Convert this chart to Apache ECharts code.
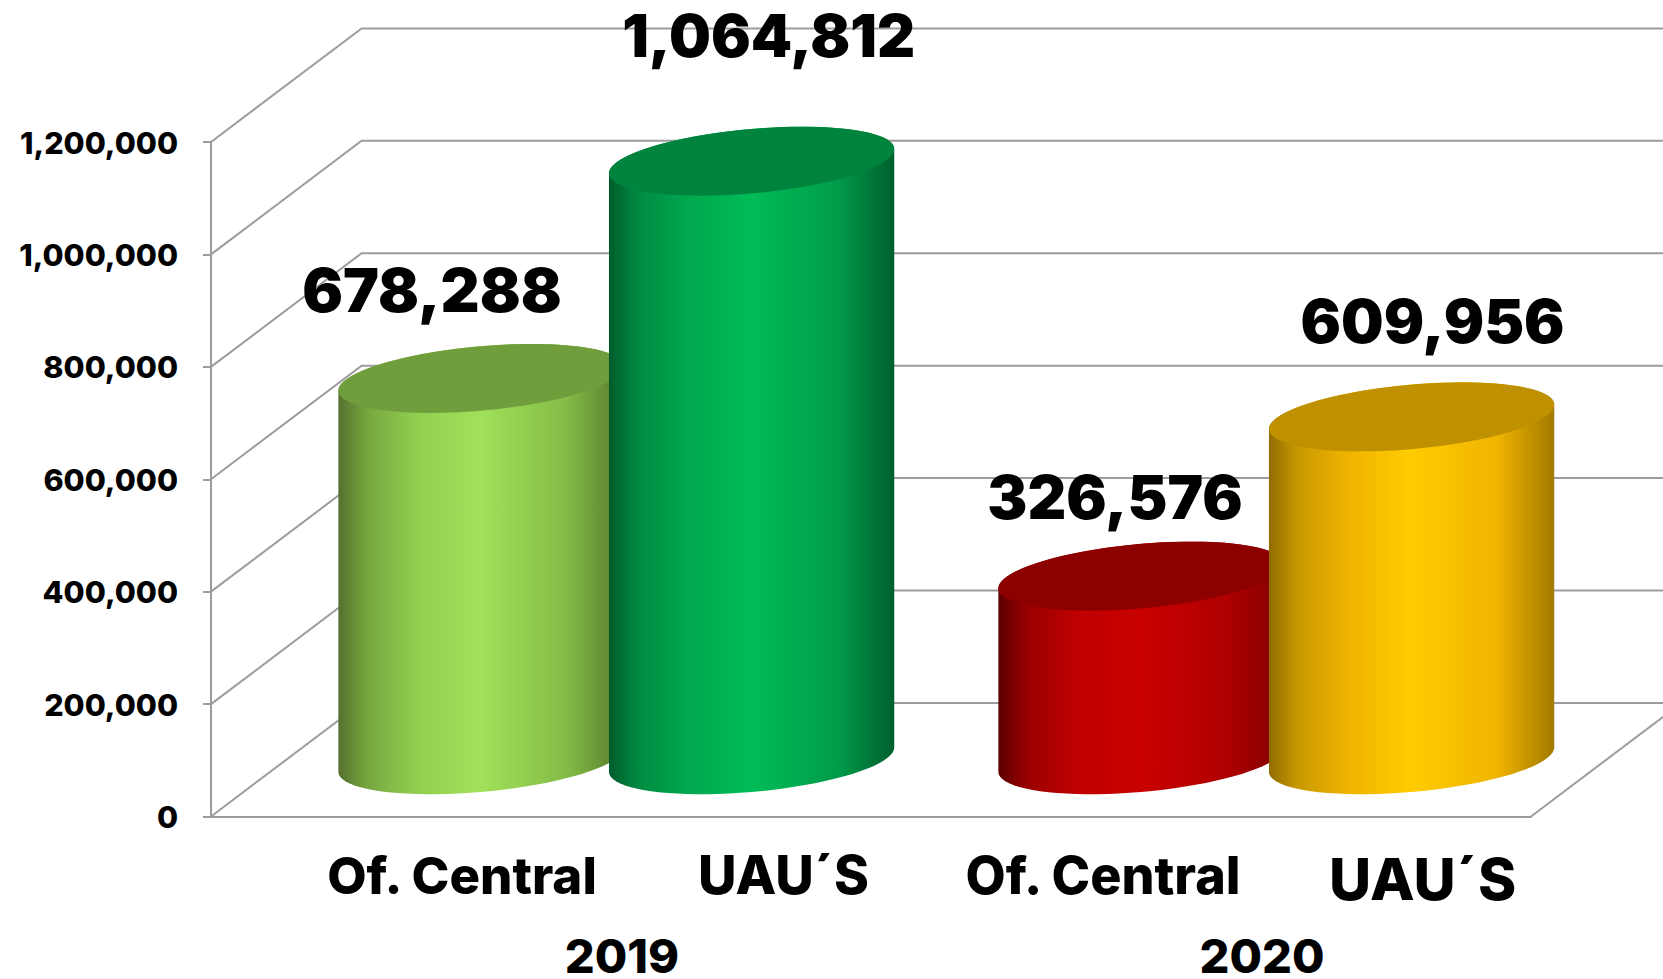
<!DOCTYPE html>
<html>
<head>
<meta charset="utf-8">
<style>
  html, body { margin: 0; padding: 0; background: #fff; }
  #chart { width: 1663px; height: 979px; }
</style>
<script src="https://cdn.jsdelivr.net/npm/echarts@6/dist/echarts.min.js"></script>
</head>
<body>
<div id="chart"></div>
<script>
const years = ['2019', '2020']
const subLabels = ['Of. Central', 'UAU´S']
const ofCentral = [678288, 326576]
const uaus = [1064812, 609956]
const yTicks = [0, 200000, 400000, 600000, 800000, 1000000, 1200000]

const fontFamily = 'Inter, "Noto Sans", sans-serif'
const gridColor = '#9c9c9c'

// depth of the fake 3D box, one tick step tall
const depthX = 150.6
const depthY = 113.6
// ellipse of the cylinder: oblique circle
const ellA = 133.4
const ellB = 50.5
const ellC = 34.5
const barShift = 0.205

// body gradient + lid colour per bar [series][category]
const bodyStops = [
  [
    ['#566f30', '#76a63f', '#92d050', '#a0e05a', '#84bc46', '#557a2a'],
    ['#5c0000', '#9a0000', '#c00000', '#c90000', '#b00000', '#800000']
  ],
  [
    ['#005c2c', '#008a41', '#00a84f', '#00bc58', '#009c49', '#005f2d'],
    ['#8f6c00', '#c89800', '#f0b400', '#ffcc00', '#f0b400', '#a07a00']
  ]
]
const lidColors = [['#719e3d', '#8c0000'], ['#00843d', '#bf9000']]
const stopAt = [0, 0.1, 0.28, 0.5, 0.8, 1]

// hand placed texts in the original, offset from the bar centre
const valueNudge = [[[-49, -88], [-26, -79]], [[17, -126], [21, -96]]]
const valueFont = [[60.5, 60], [59, 60]]
const subNudge = [[-19, -38], [32, 11]]
const subY = [[875, 875], [875, 879]]
const subFont = [[51, 52], [53, 58]]

function ellipsePoint(cx, cy, t) {
  return [cx + ellA * Math.cos(t) + ellB * Math.sin(t), cy - ellC * Math.sin(t)]
}

function renderCylinder(s) {
  return function (params, api) {
    const i = api.value(0)
    const band = api.size([1, 0])[0]
    const top = api.coord([i, api.value(1)])
    const base = api.coord([i, 0])
    const cx = top[0] + (s === 0 ? -1 : 1) * band * barShift + depthX / 2
    const topY = top[1] - depthY / 2
    const baseY = base[1] - depthY / 2

    // silhouette: start at right extreme of lid, over the back to the left extreme, then lower half of base
    const tLeft = Math.atan2(-ellB, -ellA)
    const tRight = tLeft + Math.PI
    const body = []
    for (let k = 0; k <= 40; k++) {
      body.push(ellipsePoint(cx, topY, tRight + (Math.PI * k) / 40))
    }
    for (let k = 0; k <= 40; k++) {
      body.push(ellipsePoint(cx, baseY, tLeft + (Math.PI * k) / 40))
    }
    const lid = []
    for (let k = 0; k < 80; k++) {
      lid.push(ellipsePoint(cx, topY, (2 * Math.PI * k) / 80))
    }

    const stops = bodyStops[s][i].map((c, n) => ({ offset: stopAt[n], color: c }))
    const vn = valueNudge[s][i]
    return {
      type: 'group',
      children: [
        {
          type: 'polygon',
          shape: { points: body },
          style: { fill: new echarts.graphic.LinearGradient(0, 0, 1, 0, stops) }
        },
        {
          type: 'polygon',
          shape: { points: lid },
          style: { fill: lidColors[s][i] }
        },
        {
          type: 'text',
          z2: 10,
          style: {
            text: (api.value(1)).toLocaleString('en-US'),
            x: cx + vn[0],
            y: topY + vn[1],
            align: 'center',
            verticalAlign: 'middle',
            fill: '#000',
            font: '900 ' + valueFont[s][i] + 'px ' + fontFamily
          }
        },
        {
          type: 'text',
          z2: 10,
          style: {
            text: subLabels[s],
            x: cx + subNudge[s][i],
            y: subY[s][i],
            align: 'center',
            verticalAlign: 'middle',
            fill: '#000',
            font: '800 ' + subFont[s][i] + 'px ' + fontFamily
          }
        }
      ]
    }
  }
}

function renderWall(params, api) {
  const p = api.coord([0, api.value(0)])
  const left = p[0] - api.size([1, 0])[0] / 2
  const lines = [{
    type: 'polyline',
    shape: { points: [[left, p[1]], [left + depthX, p[1] - depthY], [api.getWidth(), p[1] - depthY]] },
    style: { stroke: gridColor, lineWidth: 2, fill: null }
  }]
  // floor edge on the right side
  if (params.dataIndex === 0) {
    const right = api.coord([1, 0])[0] + api.size([1, 0])[0] / 2
    lines.push({
      type: 'polyline',
      shape: { points: [[right, p[1]], [right + depthX, p[1] - depthY]] },
      style: { stroke: gridColor, lineWidth: 2, fill: null }
    })
  }
  return { type: 'group', children: lines }
}

const chart = echarts.init(document.getElementById('chart'), null, { renderer: 'svg' })
chart.setOption({
  animation: false,
  backgroundColor: '#fff',
  grid: { left: 211, right: 132, top: 142, bottom: 160 },
  xAxis: {
    type: 'category',
    data: years,
    axisLine: { lineStyle: { color: gridColor, width: 2 } },
    axisTick: { show: false },
    axisLabel: {
      margin: 121,
      color: '#000',
      fontFamily: fontFamily,
      fontWeight: 800,
      fontSize: 47,
      lineHeight: 36,
      formatter: v => '{y' + v + '|' + v + '}',
      rich: {
        y2019: { fontFamily: fontFamily, fontWeight: 800, fontSize: 47, lineHeight: 36, padding: [0, 0, 0, 162] },
        y2020: { fontFamily: fontFamily, fontWeight: 800, fontSize: 47, lineHeight: 36, padding: [0, 0, 0, 122] }
      }
    }
  },
  yAxis: {
    type: 'value',
    min: 0,
    max: 1200000,
    interval: 200000,
    splitLine: { show: false },
    axisLine: { show: true, lineStyle: { color: gridColor, width: 2 } },
    axisTick: { show: true, length: 8, lineStyle: { color: gridColor, width: 2 } },
    axisLabel: {
      margin: 33,
      color: '#000',
      fontFamily: fontFamily,
      fontWeight: 800,
      fontSize: 30.5,
      padding: [12, 0, 0, 0],
      formatter: v => v.toLocaleString('en-US')
    }
  },
  series: [
    {
      type: 'custom',
      z: 1,
      silent: true,
      renderItem: renderWall,
      encode: { y: 0 },
      data: yTicks.map(v => [v])
    },
    {
      name: subLabels[0],
      type: 'custom',
      z: 2,
      renderItem: renderCylinder(0),
      encode: { x: 0, y: 1 },
      data: ofCentral.map((v, i) => [i, v])
    },
    {
      name: subLabels[1],
      type: 'custom',
      z: 3,
      renderItem: renderCylinder(1),
      encode: { x: 0, y: 1 },
      data: uaus.map((v, i) => [i, v])
    }
  ]
})
</script>
</body>
</html>
